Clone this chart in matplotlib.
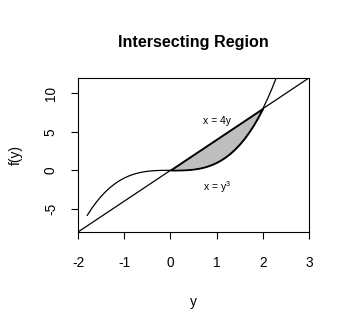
import numpy as np
import matplotlib.pyplot as plt

plt.rcParams['font.family'] = ['Liberation Sans', 'DejaVu Sans']
plt.rcParams['axes.unicode_minus'] = False

# curva x = y^3
cubo_y = [-1.8, -1.7, -1.6, -1.5, -1.4, -1.3, -1.2, -1.1, -1.0, -0.9, -0.8,
          -0.7, -0.6, -0.5, -0.4, -0.3, -0.2, -0.1, 0.0, 0.1, 0.2, 0.3, 0.4,
          0.5, 0.6, 0.7, 0.8, 0.9, 1.0, 1.1, 1.2, 1.3, 1.4, 1.5, 1.6, 1.7,
          1.8, 1.9, 2.0, 2.1, 2.2, 2.3]
cubo_f = [-5.832, -4.913, -4.096, -3.375, -2.744, -2.197, -1.728, -1.331,
          -1.0, -0.729, -0.512, -0.343, -0.216, -0.125, -0.064, -0.027,
          -0.008, -0.001, 0.0, 0.001, 0.008, 0.027, 0.064, 0.125, 0.216,
          0.343, 0.512, 0.729, 1.0, 1.331, 1.728, 2.197, 2.744, 3.375,
          4.096, 4.913, 5.832, 6.859, 8.0, 9.261, 10.648, 12.167]

# reta x = 4y
reta_y = [-2.0, 3.0]
reta_f = [-8.0, 12.0]

# regiao sombreada entre 0 e 2
reg_y = cubo_y[18:39]
reg_inf = cubo_f[18:39]
reg_sup = [0.0, 0.4, 0.8, 1.2, 1.6, 2.0, 2.4, 2.8, 3.2, 3.6, 4.0, 4.4, 4.8,
           5.2, 5.6, 6.0, 6.4, 6.8, 7.2, 7.6, 8.0]

fig = plt.figure(figsize=(3.5, 3.3), dpi=100)
ax = fig.add_axes([0.223, 0.297, 0.66, 0.467])

ax.fill_between(reg_y, reg_inf, reg_sup, facecolor='#bebebe', edgecolor='black', linewidth=0.9)
ax.plot(cubo_y, cubo_f, 'k-', linewidth=0.9)
ax.plot(reta_y, reta_f, 'k-', linewidth=0.9)

ax.text(1.0, 6.4, "x = 4y", fontsize=7.5, ha='center', va='center')
ax.text(1.0, -2.2, "x = $\\mathregular{y^3}$", fontsize=7.5, ha='center', va='center')

ax.set_xlim(-2, 3)
ax.set_ylim(-8, 12)
ax.set_xticks([-2, -1, 0, 1, 2, 3])
ax.set_yticks([-5, 0, 5, 10])
ax.tick_params(direction='out', length=5, width=0.8, labelsize=9.8)
ax.tick_params(axis='x', pad=12)
ax.tick_params(axis='y', pad=9.5)
for lab in ax.get_yticklabels():
    lab.set_rotation(90)
    lab.set_va('center')
for s in ax.spines.values():
    s.set_linewidth(0.8)

ax.set_xlabel("y", fontsize=9.8, labelpad=18)
ax.set_ylabel("f(y)", fontsize=9.8, labelpad=15)
ax.set_title("Intersecting Region", fontsize=11.6, fontweight='bold', pad=22)

fig.savefig("out.png", dpi=100)
